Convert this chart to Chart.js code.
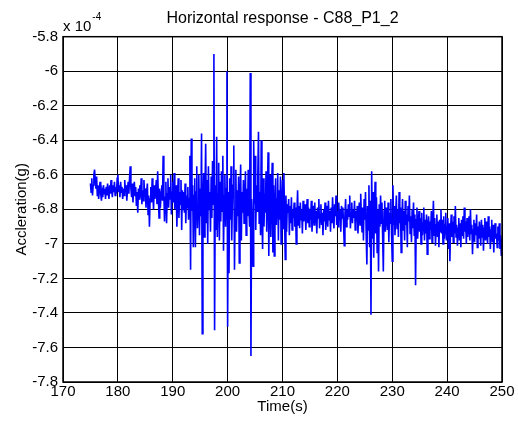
<!DOCTYPE html>
<html>
<head>
<meta charset="utf-8">
<title>Horizontal response - C88_P1_2</title>
<script src="https://cdn.jsdelivr.net/npm/chart.js@4.4.1/dist/chart.umd.min.js"></script>
<style>
    html, body { margin: 0; padding: 0; background: #fff; }
    #wrap { width: 518px; height: 428px; }
</style>
</head>
<body>
<div id="wrap"><canvas id="chart" width="518" height="428"></canvas></div>
<script>
// axis ranges and tick labels (acceleration in units of 1e-4 g)
const xTicks = [170, 180, 190, 200, 210, 220, 230, 240, 250];
const yTicks = [-7.8, -7.6, -7.4, -7.2, -7, -6.8, -6.6, -6.4, -6.2, -6, -5.8];
const yExponent = "-4";

// samples every 0.125 s, one row per second
const sampleStep = 0.125;

// 175 s - 190 s
const seg175 = [
    -6.65, -6.70, -6.62, -6.72, -6.66, -6.60, -6.57, -6.63,
    -6.68, -6.61, -6.72, -6.66, -6.74, -6.69, -6.64, -6.71,
    -6.75, -6.70, -6.73, -6.66, -6.71, -6.68, -6.74, -6.67,
    -6.72, -6.65, -6.70, -6.74, -6.66, -6.71, -6.63, -6.69,
    -6.73, -6.66, -6.70, -6.64, -6.72, -6.67, -6.71, -6.62,
    -6.60, -6.70, -6.66, -6.73, -6.64, -6.70, -6.67, -6.74,
    -6.68, -6.72, -6.63, -6.70, -6.66, -6.75, -6.69, -6.64,
    -6.71, -6.62, -6.55, -6.68, -6.73, -6.65, -6.76, -6.69,
    -6.64, -6.72, -6.67, -6.78, -6.70, -6.82, -6.68, -6.74,
    -6.66, -6.73, -6.62, -6.77, -6.69, -6.75, -6.63, -6.72,
    -6.68, -6.79, -6.70, -6.65, -6.83, -6.72, -6.90, -6.74,
    -6.67, -6.76, -6.62, -6.71, -6.80, -6.66, -6.74, -6.69,
    -6.63, -6.77, -6.58, -6.72, -6.85, -6.68, -6.79, -6.70,
    -6.66, -6.75, -6.49, -6.70, -6.87, -6.73, -6.64, -6.88,
    -6.71, -6.62, -6.79, -6.67, -6.74, -6.60, -6.83, -6.70
];

// 190 s - 210 s (strong shaking)
const seg190 = [
    -6.64, -6.76, -6.59, -6.80, -6.71, -6.66, -6.90, -6.73,
    -6.62, -6.85, -6.70, -6.77, -6.63, -6.92, -6.69, -6.80,
    -6.70, -6.82, -6.65, -6.88, -6.72, -6.79, -6.67, -6.86,
    -6.74, -6.49, -7.15, -6.39, -6.81, -6.66, -7.02, -6.72,
    -6.62, -7.02, -6.70, -6.55, -6.91, -6.78, -6.60, -6.95,
    -6.68, -6.84, -6.36, -7.52, -6.75, -6.59, -6.96, -6.70,
    -6.42, -6.88, -6.63, -7.00, -6.55, -6.80, -6.70, -6.93,
    -6.61, -6.85, -6.52, -6.77, -5.90, -7.50, -6.66, -6.92,
    -6.38, -6.96, -6.71, -6.53, -6.98, -6.64, -6.87, -6.58,
    -6.81, -6.49, -7.04, -6.72, -6.60, -6.90, -6.68, -6.00,
    -7.48, -6.70, -7.17, -6.62, -6.86, -6.55, -6.98, -6.74,
    -6.66, -6.43, -7.15, -6.80, -6.57, -6.93, -6.69, -6.84,
    -6.61, -7.11, -6.75, -6.54, -6.98, -6.70, -6.82, -6.63,
    -6.88, -6.72, -6.58, -6.95, -6.68, -6.84, -6.57, -6.79,
    -6.90, -6.01, -7.65, -6.74, -6.86, -7.13, -6.40, -6.77,
    -6.49, -6.92, -6.66, -6.81, -6.60, -6.35, -6.88, -6.70,
    -6.95, -6.40, -6.85, -7.03, -6.62, -6.90, -6.71, -6.82,
    -6.58, -6.93, -6.68, -6.47, -7.07, -6.75, -6.60, -6.96,
    -6.70, -6.53, -7.05, -6.66, -7.07, -6.79, -6.62, -6.89,
    -6.74, -6.59, -6.98, -6.69, -6.86, -6.61, -7.00, -6.78
];

// 210 s - 230 s
const seg210 = [
    -6.63, -6.91, -6.59, -6.84, -7.09, -6.72, -6.93, -6.77,
    -6.82, -6.74, -6.95, -6.78, -6.88, -6.73, -6.92, -6.80,
    -6.85, -6.76, -6.90, -6.79, -7.00, -6.82, -6.69, -6.89,
    -6.78, -6.91, -6.76, -6.86, -6.80, -6.94, -6.75, -6.87,
    -6.83, -6.77, -6.92, -6.81, -6.74, -6.88, -6.79, -6.90,
    -6.80, -6.86, -6.75, -6.93, -6.82, -6.78, -6.89, -6.76,
    -6.88, -6.81, -6.94, -6.79, -6.85, -6.74, -6.91, -6.83,
    -6.77, -6.89, -6.82, -6.95, -6.80, -6.87, -6.76, -6.92,
    -6.84, -6.78, -6.90, -6.75, -6.86, -6.81, -6.93, -6.79,
    -6.88, -6.73, -6.85, -6.91, -6.77, -6.84, -6.72, -6.89,
    -6.81, -6.90, -6.76, -6.86, -6.80, -6.93, -6.78, -6.85,
    -6.79, -6.88, -7.01, -6.83, -6.74, -6.90, -6.80, -6.86,
    -6.77, -6.84, -6.72, -6.91, -6.82, -6.76, -6.88, -6.80,
    -6.85, -6.75, -6.92, -6.81, -6.87, -6.78, -6.94, -6.83,
    -6.76, -6.89, -6.71, -6.84, -6.93, -6.79, -6.98, -6.74,
    -6.86, -6.70, -6.95, -7.12, -6.78, -6.92, -6.66, -7.02,
    -6.75, -7.41, -6.58, -6.97, -6.70, -7.08, -6.82, -6.64,
    -6.94, -6.73, -7.05, -6.80, -7.16, -6.77, -6.90, -6.72,
    -6.88, -6.76, -6.96, -7.16, -6.81, -6.75, -6.93, -6.79,
    -6.84, -6.92, -6.76, -6.99, -6.82, -6.88, -6.74, -6.95
];

// 230 s - 250 s
const seg230 = [
    -7.10, -6.66, -6.89, -6.78, -6.95, -6.83, -6.72, -6.91,
    -6.80, -6.96, -6.70, -6.88, -6.79, -7.05, -6.85, -6.74,
    -6.92, -6.81, -6.98, -6.75, -6.89, -6.83, -7.02, -6.78,
    -6.87, -6.72, -6.94, -6.84, -6.99, -6.80, -6.91, -6.76,
    -6.95, -6.83, -7.24, -6.86, -6.79, -6.97, -6.88, -6.81,
    -6.93, -6.85, -7.00, -6.82, -6.95, -6.88, -6.79, -6.98,
    -6.86, -6.94, -6.83, -7.06, -6.90, -6.84, -6.97, -6.87,
    -6.92, -6.81, -6.99, -6.88, -6.75, -6.95, -6.85, -7.01,
    -6.89, -6.83, -6.96, -6.87, -7.02, -6.86, -6.93, -6.80,
    -6.94, -6.86, -7.00, -6.84, -6.97, -6.89, -6.82, -6.98,
    -6.90, -6.85, -7.03, -6.88, -7.10, -6.92, -6.83, -6.96,
    -6.87, -6.99, -6.84, -6.94, -6.78, -6.96, -6.89, -7.01,
    -6.91, -6.85, -6.98, -6.88, -7.02, -6.86, -6.95, -6.84,
    -6.97, -6.79, -6.93, -6.87, -7.00, -6.85, -6.96, -6.90,
    -6.84, -6.98, -6.80, -6.94, -6.89, -7.06, -6.92, -6.86,
    -6.99, -6.88, -6.95, -6.83, -7.02, -6.90, -6.97, -6.87,
    -6.93, -7.01, -6.86, -6.96, -6.89, -7.04, -6.91, -6.85,
    -6.98, -6.87, -6.94, -7.00, -6.84, -6.96, -6.90, -7.03,
    -6.92, -6.86, -6.99, -6.89, -7.05, -6.93, -6.88, -6.97,
    -6.94, -7.02, -6.90, -6.98, -6.88, -7.03, -6.95, -7.07,
    -6.97
];

const segments = [
    { start: 175, values: seg175 },
    { start: 190, values: seg190 },
    { start: 210, values: seg210 },
    { start: 230, values: seg230 }
];

const points = [];
segments.forEach(seg => {
    seg.values.forEach((v, i) => {
        points.push({ x: seg.start + i * sampleStep, y: v });
    });
});

const FONT = "'Liberation Sans', Arial, Helvetica, sans-serif";

// outer box + "x 10^-4" multiplier
const matlabExtras = {
    id: "matlabExtras",
    afterDraw(chart) {
        const ctx = chart.ctx;
        const a = chart.chartArea;
        ctx.save();
        ctx.strokeStyle = "#000";
        ctx.lineWidth = 1.5;
        ctx.strokeRect(a.left, a.top, a.right - a.left, a.bottom - a.top);

        ctx.fillStyle = "#000";
        ctx.textBaseline = "alphabetic";
        ctx.textAlign = "left";
        ctx.font = "15px " + FONT;
        ctx.fillText("x 10", a.left, 31);
        const w = ctx.measureText("x 10").width;
        ctx.font = "10px " + FONT;
        ctx.fillText(yExponent, a.left + w + 1, 20);
        ctx.restore();
    }
};

new Chart(document.getElementById("chart"), {
    type: "line",
    data: {
        datasets: [{
            data: points,
            borderColor: "#0000ff",
            borderWidth: 1.6,
            pointRadius: 0,
            tension: 0,
            fill: false
        }]
    },
    options: {
        responsive: false,
        animation: false,
        layout: { padding: { left: 0, right: 16, top: 0, bottom: 0 } },
        plugins: {
            legend: { display: false },
            tooltip: { enabled: false },
            title: {
                display: true,
                text: "Horizontal response - C88_P1_2",
                color: "#000",
                fullSize: false,
                font: { family: FONT, size: 16, weight: "normal" },
                padding: { top: 9, bottom: 8.5 }
            }
        },
        scales: {
            x: {
                type: "linear",
                min: xTicks[0],
                max: xTicks[xTicks.length - 1],
                afterBuildTicks: s => { s.ticks = xTicks.map(v => ({ value: v })); },
                afterFit: s => { s.height = 46; },
                ticks: {
                    color: "#000",
                    font: { family: FONT, size: 15 },
                    padding: 1,
                    maxRotation: 0,
                    autoSkip: false
                },
                grid: { color: "#000", lineWidth: 1, drawTicks: false },
                border: { display: false },
                title: {
                    display: true,
                    text: "Time(s)",
                    color: "#000",
                    font: { family: FONT, size: 15 },
                    padding: { top: 0, bottom: 12 }
                }
            },
            y: {
                type: "linear",
                min: yTicks[0],
                max: yTicks[yTicks.length - 1],
                afterBuildTicks: s => { s.ticks = yTicks.map(v => ({ value: v })); },
                afterFit: s => { s.width = 63; },
                ticks: {
                    color: "#000",
                    font: { family: FONT, size: 15 },
                    padding: 5,
                    autoSkip: false,
                    callback: v => String(parseFloat(Number(v).toFixed(1)))
                },
                grid: { color: "#000", lineWidth: 1, drawTicks: false },
                border: { display: false },
                title: {
                    display: true,
                    text: "Accleration(g)",
                    color: "#000",
                    font: { family: FONT, size: 15 },
                    padding: { top: 13, bottom: 0 }
                }
            }
        }
    },
    plugins: [matlabExtras]
});
</script>
</body>
</html>
